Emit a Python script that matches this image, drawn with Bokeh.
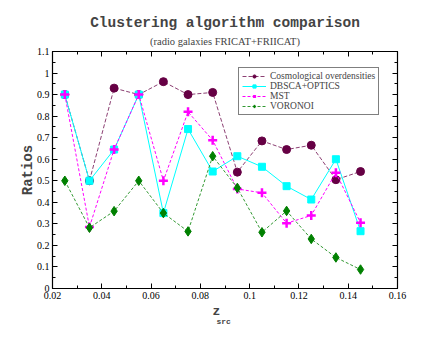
from bokeh.plotting import figure
from bokeh.models import (Range1d, LinearAxis, FixedTicker, Title, Legend, LegendItem)
from bokeh.embed import file_html
from bokeh.resources import INLINE

z = [0.025, 0.035, 0.045, 0.055, 0.065, 0.075, 0.085, 0.095, 0.105, 0.115, 0.125, 0.135, 0.145]
cosmo = [0.90, 0.50, 0.93, 0.90, 0.96, 0.90, 0.91, 0.54, 0.685, 0.645, 0.665, 0.505, 0.543]
dbscan = [0.90, 0.50, 0.645, 0.90, 0.35, 0.74, 0.543, 0.614, 0.565, 0.475, 0.413, 0.60, 0.266]
mst = [0.90, 0.285, 0.645, 0.90, 0.50, 0.82, 0.688, 0.462, 0.444, 0.303, 0.339, 0.537, 0.305]
voronoi = [0.50, 0.282, 0.359, 0.50, 0.35, 0.265, 0.614, 0.467, 0.261, 0.36, 0.23, 0.144, 0.088]

names = ["Cosmological overdensities", "DBSCA+OPTICS", "MST", "VORONOI"]
x_ticks = [0.02, 0.04, 0.06, 0.08, 0.10, 0.12, 0.14, 0.16]
x_labels = ["0.02", "0.04", "0.06", "0.08", "0.1", "0.12", "0.14", "0.16"]
y_ticks = [0.0, 0.1, 0.2, 0.3, 0.4, 0.5, 0.6, 0.7, 0.8, 0.9, 1.0, 1.1]
y_labels = ["0", "0.1", "0.2", "0.3", "0.4", "0.5", "0.6", "0.7", "0.8", "0.9", "1", "1.1"]

SERIF = "Liberation Serif"
MONO = "Liberation Mono"

p = figure(width=447, height=338, output_backend="svg", toolbar_location=None,
           x_range=Range1d(0.02, 0.16), y_range=Range1d(0, 1.1),
           min_border_left=52, min_border_right=50, min_border_top=51, min_border_bottom=50,
           x_axis_location=None, y_axis_location=None, title_location=None)
p.grid.visible = False
p.outline_line_color = "black"
p.outline_line_width = 1.2
p.background_fill_color = "white"
p.border_fill_color = "white"


def style_axis(ax, ticks, labels, show_labels):
    ax.ticker = FixedTicker(ticks=ticks, minor_ticks=[t + (ticks[1] - ticks[0]) / 2 for t in ticks[:-1]])
    ax.major_tick_in = 5
    ax.major_tick_out = 0
    ax.minor_tick_in = 3
    ax.minor_tick_out = 0
    ax.axis_line_color = "black"
    ax.major_tick_line_color = "black"
    ax.minor_tick_line_color = "black"
    ax.major_label_text_font = SERIF
    ax.major_label_text_font_size = "10px"
    ax.major_label_text_color = "black"
    ax.major_label_standoff = 3
    if show_labels:
        ax.major_label_overrides = {t: l for t, l in zip(ticks, labels)}
    else:
        ax.major_label_overrides = {t: "" for t in ticks}
        ax.major_label_standoff = 0


xb = LinearAxis()
style_axis(xb, x_ticks, x_labels, True)
p.add_layout(xb, "below")
xt = LinearAxis()
style_axis(xt, x_ticks, x_labels, False)
p.add_layout(xt, "above")
yl = LinearAxis()
style_axis(yl, y_ticks, y_labels, True)
yl.axis_label = "Ratios"
yl.axis_label_text_font = MONO
yl.axis_label_text_font_style = "bold"
yl.axis_label_text_font_size = "14px"
yl.axis_label_standoff = -2
p.add_layout(yl, "left")
yr = LinearAxis()
style_axis(yr, y_ticks, y_labels, False)
p.add_layout(yr, "right")

items = []
c1 = "#660044"
r1 = p.line(z, cosmo, line_color=c1, line_dash="4 2", line_width=1, line_alpha=0.75)
s1 = p.scatter(z, cosmo, marker="circle", size=8, fill_color=c1, line_color=c1)
items.append(LegendItem(label=names[0], renderers=[r1, s1]))

c2 = "#00ffff"
r2 = p.line(z, dbscan, line_color=c2, line_width=1)
s2 = p.scatter(z, dbscan, marker="square", size=7, fill_color=c2, line_color=c2)
items.append(LegendItem(label=names[1], renderers=[r2, s2]))

c3 = "#ff00ff"
r3 = p.line(z, mst, line_color=c3, line_dash="3 2", line_width=1)
s3 = p.scatter(z, mst, marker="cross", size=9, line_color=c3, line_width=2.5)
items.append(LegendItem(label=names[2], renderers=[r3, s3]))

c4 = "#008000"
r4 = p.line(z, voronoi, line_color=c4, line_dash="3 2", line_width=1, line_alpha=0.8)
s4 = p.scatter(z, voronoi, marker="diamond", size=9.5, fill_color=c4, line_color=c4)
items.append(LegendItem(label=names[3], renderers=[r4, s4]))

legend = Legend(items=items, location=(186, 173))
legend.label_text_font = SERIF
legend.label_text_font_size = "9.5px"
legend.label_height = 8
legend.glyph_height = 8
legend.glyph_width = 24
legend.label_standoff = 4
legend.spacing = 0
legend.padding = 3
legend.margin = 0
legend.border_line_color = "black"
legend.border_line_width = 1
legend.background_fill_alpha = 1
p.add_layout(legend, "center")

sub = Title(text="(radio galaxies FRICAT+FRIICAT)", align="center", text_font=SERIF,
            text_font_size="10.5px", text_font_style="normal", standoff=10)
p.add_layout(sub, "above")
ttl = Title(text="Clustering algorithm comparison", align="center", text_font=MONO,
            text_font_size="14.5px", text_font_style="bold", standoff=-4)
p.add_layout(ttl, "above")

zt = Title(text="z", align="left", offset=160, text_font=MONO, text_font_size="13px",
           text_font_style="bold", standoff=0)
p.add_layout(zt, "below")
st = Title(text="src", align="left", offset=164, text_font=MONO, text_font_size="8px",
           text_font_style="bold", standoff=-14)
p.add_layout(st, "below")

open("out.html", "w").write(file_html(p, INLINE))
